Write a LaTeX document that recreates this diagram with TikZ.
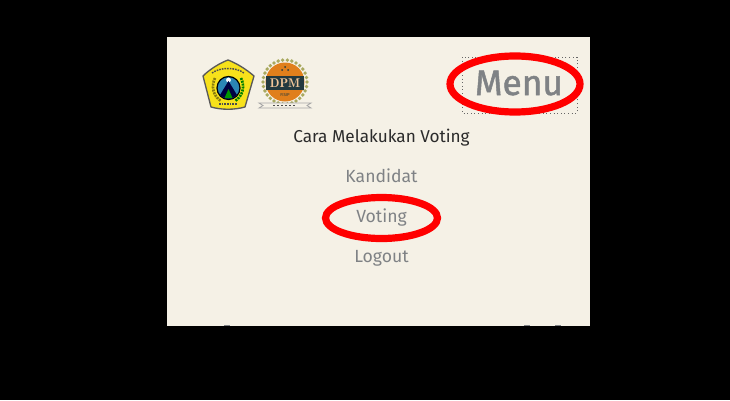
\documentclass[tikz,border=0pt]{standalone}
\usepackage{fontspec}
\setmainfont{Fira Sans}
\newfontfamily\menufont[FakeBold=1.4]{Fira Sans}
\usetikzlibrary{calc}
\usetikzlibrary{positioning}
\usetikzlibrary{shapes.geometric}
\definecolor{paper}{HTML}{F5F1E6}
\definecolor{menugrey}{HTML}{7F8285}
\definecolor{textdark}{HTML}{2B2B2B}
\definecolor{shield}{HTML}{F7E11B}
\definecolor{ringgold}{HTML}{A9A95F}
\definecolor{discorange}{HTML}{E07F1C}
\definecolor{banddark}{HTML}{23393F}
\definecolor{skyblue}{HTML}{2B86B5}
\tikzset{
    menuitem/.style={text=menugrey, inner sep=0pt, anchor=base, font=\fontsize{13.2}{15}\selectfont},
    mark ring/.style={draw=red, line width=5.4pt},
}
\newcommand{\markring}[5]{
    \node[mark ring, ellipse, minimum width=#3*0.75pt, minimum height=#4*0.75pt, inner sep=0pt] (#5) at (#1, #2) {};
}
\begin{document}
\begin{tikzpicture}[x=0.75pt, y=-0.75pt]
    \useasboundingbox (0, 0) rectangle (730, 400);
    \fill[black] (0, 0) rectangle (730, 400);
    \fill[paper] (167, 37) rectangle (590, 326);
    % tops of the clipped words
    \foreach \x in {227, 527, 558} {
        \fill[menugrey] (\x - 3, 325) rectangle (\x + 3, 326);
    }
    % left logo
    \filldraw[draw=black!65, fill=shield, line width=1pt, line join=round] (228, 60) .. controls (236, 63) and (246, 69) .. (254, 76) -- (245, 107) .. controls (234, 110) and (222, 110) .. (211, 107) -- (203, 76) .. controls (210, 69) and (220, 63) .. cycle;
    \draw[black!70, line width=1.1pt, dash pattern=on 1.2pt off 0.8pt] (212, 73) .. controls (220, 67) and (236, 67) .. (244, 73);
    \draw[black!70, line width=0.9pt, dash pattern=on 1.2pt off 0.8pt] (219, 104) -- (237, 104);
    \draw[shield!55!black, line width=2pt, dash pattern=on 1.5pt off 0.7pt] (215, 78) .. controls (211, 86) and (213, 96) .. (221, 101);
    \draw[green!50!black, line width=2pt, dash pattern=on 1.5pt off 0.7pt] (241, 78) .. controls (245, 86) and (243, 96) .. (235, 101);
    \filldraw[draw=black, fill=skyblue, line width=0.9pt] (228.5, 88) circle (11.5);
    \fill[white] (228.5, 80) circle (2.4);
    \fill[black!75!blue] (220, 95) -- (228.5, 81) -- (237, 95) -- (232, 98.5) -- (225, 98.5) -- cycle;
    \fill[green!60!black] (224.5, 98) -- (228.5, 89) -- (232.5, 98) -- cycle;
    % right logo
    \foreach \a in {0, 12, ..., 348} {
        \fill[ringgold] ($(285, 82) + (\a:22)$) circle (1.9);
    }
    \fill[discorange] (285, 82) circle (19.5);
    \fill[banddark] (266, 76) rectangle (304, 90);
    \foreach \x/\y in {282/70, 288/70, 285/67} {
        \fill[banddark] (\x, \y) circle (1);
    }
    \node[text=discorange!45!white, inner sep=0pt, font=\fontfamily{lmr}\fontsize{9.5}{10}\selectfont\bfseries] (dpm) at (285, 83) {DPM};
    \node[text=banddark, inner sep=0pt, font=\fontsize{3.2}{3}\selectfont] (fisip) at (285, 95) {FISIP};
    \draw[black!35, fill=paper, line width=0.6pt] (259, 103) -- (311, 103) -- (307, 105.5) -- (311, 108) -- (259, 108) -- (263, 105.5) -- cycle;
    \draw[black!70, line width=1.2pt, dash pattern=on 1.5pt off 1.5pt] (273, 105.5) -- (297, 105.5);
    % menu button
    \draw[black!60, dotted, line width=0.7pt] (462, 57) rectangle (577, 113);
    \node[text=menugrey, inner sep=0pt, anchor=base, font=\menufont\fontsize{26.5}{30}\selectfont] (menu) at (519, 95) {Menu};
    % links
    \node[text=textdark, inner sep=0pt, anchor=base, font=\fontsize{12.9}{15}\selectfont] (title) at (381.5, 142) {Cara Melakukan Voting};
    \node[menuitem] (kandidat) at (381.5, 182) {Kandidat};
    \node[menuitem] (voting) at (381.5, 222) {Voting};
    \node[menuitem] (logout) at (381.5, 262) {Logout};
    % red marks
    \markring{515}{84}{130}{56}{menuring}
    \markring{381.5}{218}{112}{41}{votingring}
\end{tikzpicture}
\end{document}
